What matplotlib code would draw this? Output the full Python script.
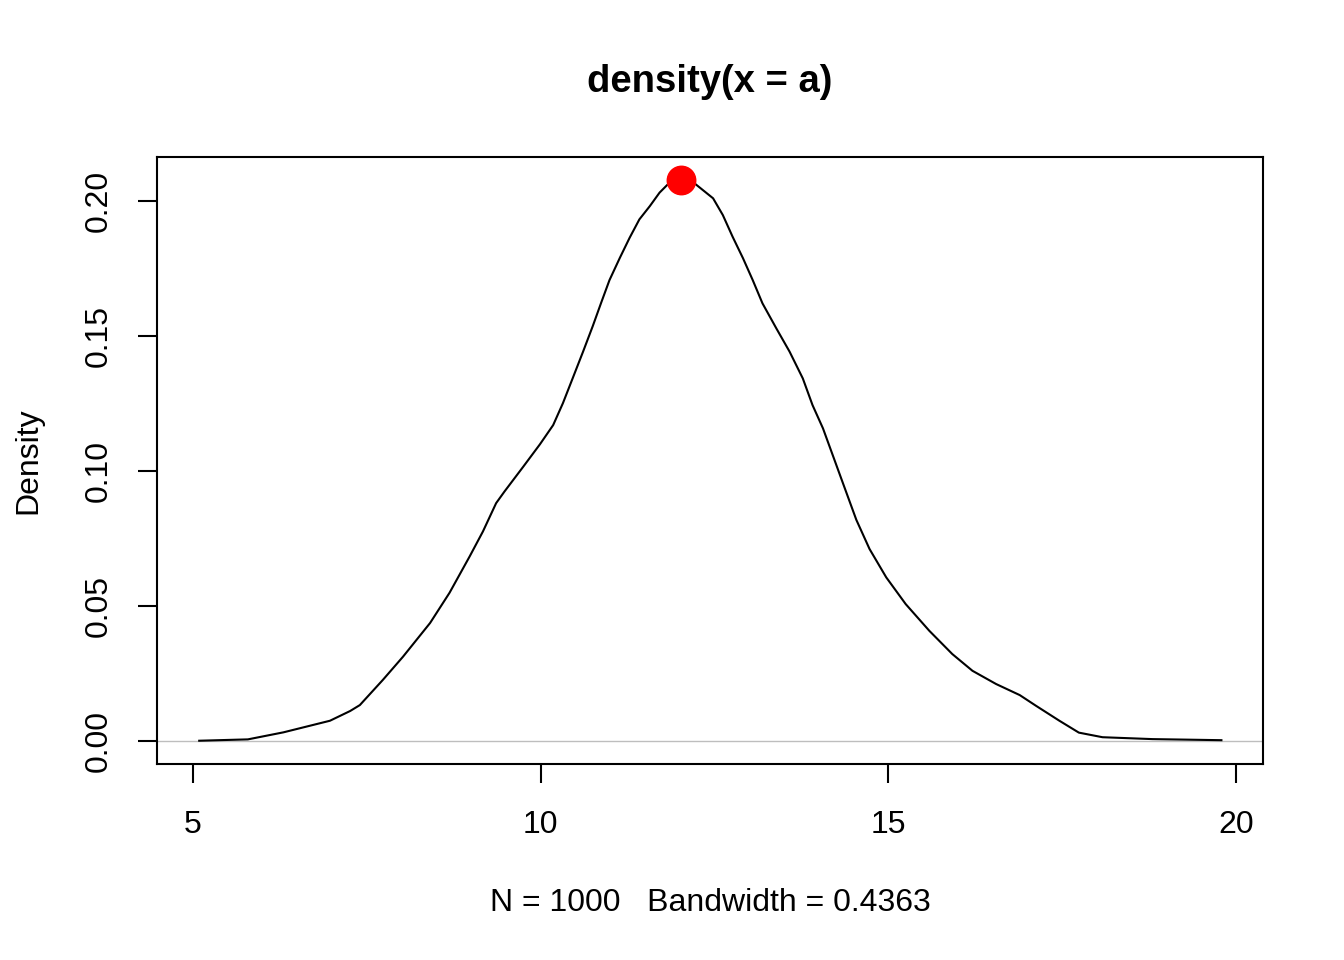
import matplotlib
matplotlib.use("Agg")
import matplotlib.pyplot as plt

plt.rcParams['font.family'] = ['Liberation Sans', 'DejaVu Sans']

# density estimate
x_vals = [5.09, 5.79, 6.30, 6.97, 7.26, 7.40, 7.73, 8.02, 8.41, 8.69, 8.98,
          9.17, 9.36, 9.48, 9.75, 9.99, 10.18, 10.32, 10.46, 10.61, 10.75,
          10.87, 10.99, 11.14, 11.28, 11.42, 11.57, 11.71, 11.83, 12.02,
          12.21, 12.48, 12.62, 12.76, 12.91, 13.05, 13.19, 13.39, 13.58,
          13.77, 13.91, 14.06, 14.20, 14.34, 14.54, 14.73, 14.97, 15.25,
          15.59, 15.92, 16.21, 16.55, 16.89, 17.12, 17.46, 17.74, 18.08,
          18.80, 19.79]
dens = [0.0001, 0.0006, 0.0032, 0.0075, 0.0111, 0.0133, 0.0226, 0.0312,
        0.0437, 0.0549, 0.0684, 0.0776, 0.0881, 0.0924, 0.1016, 0.1099,
        0.1170, 0.1251, 0.1343, 0.1442, 0.1537, 0.1623, 0.1707, 0.1790,
        0.1864, 0.1932, 0.1981, 0.2031, 0.2062, 0.2077, 0.2066, 0.2010,
        0.1948, 0.1868, 0.1788, 0.1707, 0.1621, 0.1528, 0.1442, 0.1343,
        0.1244, 0.1158, 0.1059, 0.0960, 0.0819, 0.0711, 0.0606, 0.0507,
        0.0408, 0.0322, 0.0260, 0.0211, 0.0170, 0.0131, 0.0075, 0.0031,
        0.0014, 0.0007, 0.0003]

peak_x = 12.02
peak_y = 0.2077

x_ticks = [5, 10, 15, 20]
y_ticks = [0.00, 0.05, 0.10, 0.15, 0.20]
y_labels = ["0.00", "0.05", "0.10", "0.15", "0.20"]

fig = plt.figure(figsize=(13.44, 9.6), dpi=100)
ax = fig.add_axes([157/1344, 1 - 764/960, (1263-157)/1344, (764-157)/960])

ax.axhline(0, color='#bebebe', lw=1.0, zorder=1)
ax.plot(x_vals, dens, color='black', lw=1.5, zorder=2)
ax.plot([peak_x], [peak_y], 'o', color='red', markersize=20.5, zorder=3)

ax.set_xlim(4.483, 20.388)
ax.set_ylim(-0.00852, 0.2163)

ax.set_xticks(x_ticks)
ax.set_xticklabels([str(t) for t in x_ticks])
ax.set_yticks(y_ticks)
ax.set_yticklabels(y_labels, rotation=90, va='center')
ax.tick_params(axis='both', length=14, width=1.5, labelsize=23, direction='out')
ax.tick_params(axis='x', pad=19)
ax.tick_params(axis='y', pad=17)

for s in ax.spines.values():
    s.set_linewidth(1.5)

ax.set_title("density(x = a)", fontsize=27.5, fontweight='bold', pad=47)
ax.set_xlabel("N = 1000   Bandwidth = 0.4363", fontsize=23, labelpad=35)
ax.set_ylabel("Density", fontsize=23, labelpad=29)

fig.savefig("out.png", dpi=100)
